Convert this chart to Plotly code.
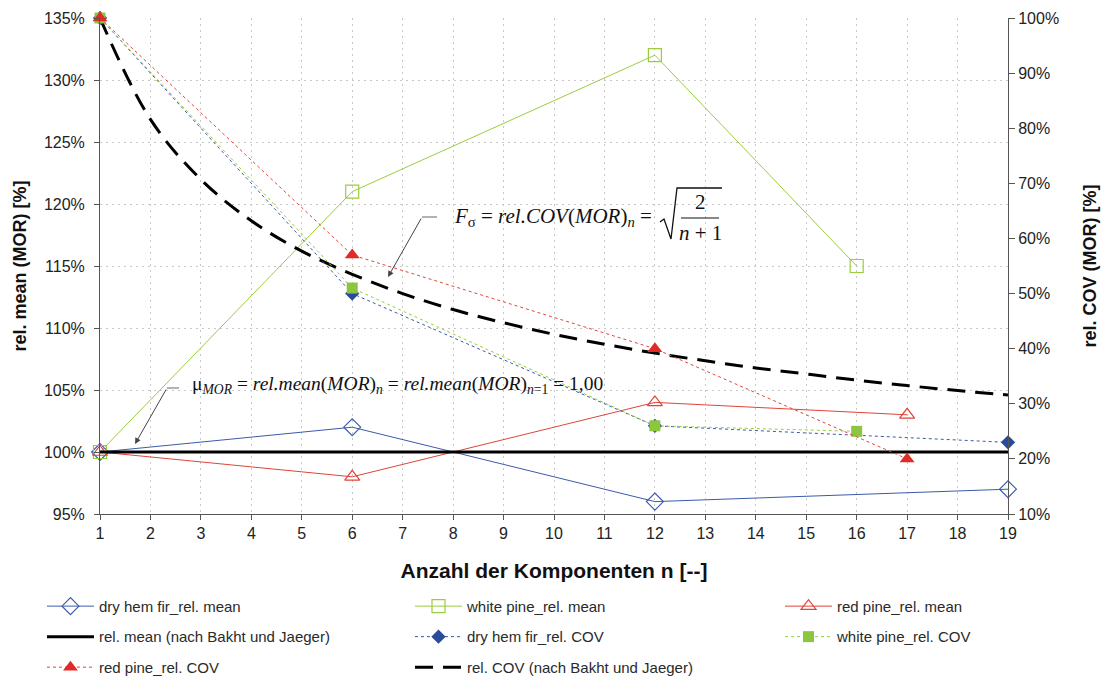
import plotly.graph_objects as go

# Number of components n for each species
n_hem = [1, 6, 12, 19]
n_white = [1, 6, 12, 16]
n_red = [1, 6, 12, 17]

# Relative mean MOR [%] (left axis)
hem_mean = [100, 102, 96, 97]
white_mean = [100, 121, 132, 115]
red_mean = [100, 98, 104, 103]

# Relative COV MOR [%] (right axis)
hem_cov = [100, 50, 26, 23]
white_cov = [100, 51, 26, 25]
red_cov = [100, 57, 40, 20]

# Reference curves after Bakht und Jaeger
n_ref = list(range(1, 20))
ref_mean = [100] * 19
ref_cov = [100, 81.6, 70.7, 63.2, 57.7, 53.5, 50.0, 47.1, 44.7, 42.6,
           40.8, 39.2, 37.8, 36.5, 35.4, 34.3, 33.3, 32.4, 31.6]

x_ticks = list(range(1, 20))
y_left_ticks = [95, 100, 105, 110, 115, 120, 125, 130, 135]
y_right_ticks = [10, 20, 30, 40, 50, 60, 70, 80, 90, 100]

BLUE = "#3b5ba9"
BLUE_F = "#2a4a9c"
GREEN = "#9acd3c"
GREEN_F = "#8cc63f"
RED = "#e0443a"
RED_F = "#e02b27"

fig = go.Figure()


def add(x, y, name, legend, rank, yaxis="y", line=None, marker=None, mode="lines+markers"):
    fig.add_trace(go.Scatter(
        x=x, y=y, name=name, mode=mode, yaxis=yaxis, line=line, marker=marker,
        legend=legend, legendgroup=name, legendrank=rank, cliponaxis=False,
    ))


# Lines drawn first (bottom) to last (top)
add(n_hem, hem_mean, "dry hem fir_rel. mean", "legend", 1,
    line=dict(color=BLUE, width=1),
    marker=dict(symbol="diamond-open", size=13, color=BLUE, line=dict(width=1.2)))
add(n_white, white_mean, "white pine_rel. mean", "legend2", 1,
    line=dict(color=GREEN, width=1),
    marker=dict(symbol="square-open", size=13, color=GREEN, line=dict(width=1.2)))
add(n_red, red_mean, "red pine_rel. mean", "legend3", 1,
    line=dict(color=RED, width=1),
    marker=dict(symbol="triangle-up-open", size=13, color=RED, line=dict(width=1.2)))
add(n_ref, ref_mean, "rel. mean (nach Bakht und Jaeger)", "legend", 2,
    line=dict(color="black", width=3), mode="lines")
add(n_ref, ref_cov, "rel. COV (nach Bakht und Jaeger)", "legend2", 3, yaxis="y2",
    line=dict(color="black", width=3, dash="18px,10px", shape="spline"), mode="lines")
add(n_hem, hem_cov, "dry hem fir_rel. COV", "legend2", 2, yaxis="y2",
    line=dict(color=BLUE, width=1, dash="dot"),
    marker=dict(symbol="diamond", size=11, color=BLUE_F))
add(n_white, white_cov, "white pine_rel. COV", "legend3", 2, yaxis="y2",
    line=dict(color=GREEN, width=1, dash="dot"),
    marker=dict(symbol="square", size=11, color=GREEN_F))
add(n_red, red_cov, "red pine_rel. COV", "legend", 3, yaxis="y2",
    line=dict(color=RED, width=1, dash="dot"),
    marker=dict(symbol="triangle-up", size=13, color=RED_F))

tick_font = dict(family="Liberation Sans, Arial, sans-serif", size=16, color="#222")
title_font = dict(family="Liberation Sans, Arial, sans-serif", size=18, color="#111")
grid = dict(showgrid=True, gridcolor="#c8c8c8", griddash="2px,4px", gridwidth=1)

fig.update_layout(
    width=1111, height=677,
    margin=dict(l=100, r=103, t=18, b=163, autoexpand=False),
    plot_bgcolor="white", paper_bgcolor="white",
    showlegend=True,
    xaxis=dict(
        range=[1, 19], tickvals=x_ticks, ticktext=[str(v) for v in x_ticks],
        tickfont=tick_font, ticks="outside", ticklen=5, tickcolor="#555",
        showline=True, linecolor="#555", linewidth=1, zeroline=False,
        title=dict(text="<b>Anzahl der Komponenten n [--]</b>",
                   font=dict(family=title_font["family"], size=21, color="#111"), standoff=22),
        **grid,
    ),
    yaxis=dict(
        range=[95, 135], tickvals=y_left_ticks,
        ticktext=[f"{v}%" for v in y_left_ticks],
        tickfont=tick_font, ticks="outside", ticklen=5, tickcolor="#555",
        ticklabelstandoff=6,
        showline=True, linecolor="#555", linewidth=1, zeroline=False,
        title=dict(text="<b>rel. mean (MOR) [%]</b>", font=title_font, standoff=12),
        **grid,
    ),
    yaxis2=dict(
        range=[10, 100], tickvals=y_right_ticks,
        ticktext=[f"{v}%" for v in y_right_ticks],
        overlaying="y", side="right", anchor="x",
        tickfont=tick_font, ticks="outside", ticklen=6, tickcolor="#555",
        showline=True, linecolor="#555", linewidth=1, showgrid=False, zeroline=False,
        title=dict(text="<b>rel. COV (MOR) [%]</b>", font=title_font, standoff=25),
    ),
)

leg_font = dict(family="Liberation Sans, Arial, sans-serif", size=15, color="#2a2a2a")
leg_common = dict(orientation="v", yanchor="top", xanchor="left", y=-0.153,
                  bgcolor="rgba(0,0,0,0)", font=leg_font, tracegroupgap=8, itemwidth=47)
fig.update_layout(
    legend=dict(x=-0.0639, **leg_common),
    legend2=dict(x=0.3414, **leg_common),
    legend3=dict(x=0.7489, **leg_common),
)

serif = "Liberation Serif, Times New Roman, serif"


def px(xp):
    return (xp - 100) / 908


def py(yp):
    return (514 - yp) / 496


# Formula for the reference COV
fig.add_annotation(
    xref="paper", yref="paper", x=px(452), y=py(217), xanchor="left", yanchor="middle",
    showarrow=False, font=dict(family=serif, size=21, color="#111"),
    text="<i>F</i><sub>σ</sub> = <i>rel.COV</i>(<i>MOR</i>)<sub><i>n</i></sub> =",
)
fig.add_annotation(
    xref="paper", yref="paper", x=px(700), y=py(202), xanchor="center", yanchor="middle",
    showarrow=False, font=dict(family=serif, size=21, color="#111"), text="2",
)
fig.add_annotation(
    xref="paper", yref="paper", x=px(700), y=py(233), xanchor="center", yanchor="middle",
    showarrow=False, font=dict(family=serif, size=21, color="#111"), text="<i>n</i> + 1",
)
fig.add_shape(type="line", xref="paper", yref="paper",
              x0=px(681), x1=px(719), y0=py(218), y1=py(218),
              line=dict(color="#111", width=1.2))
fig.add_shape(type="path", xref="paper", yref="paper",
              path=(f"M {px(660)},{py(222)} L {px(664)},{py(219)} L {px(671)},{py(239)} "
                    f"L {px(677)},{py(188)} L {px(722)},{py(188)}"),
              line=dict(color="#111", width=1.3))
fig.add_shape(type="line", xref="paper", yref="paper",
              x0=px(422), x1=px(437), y0=py(217), y1=py(217),
              line=dict(color="#666", width=1))
fig.add_annotation(
    xref="paper", yref="paper", x=px(388), y=py(277),
    axref="pixel", ayref="pixel", ax=422 - 388, ay=217 - 277,
    text="", showarrow=True, arrowhead=2, arrowsize=1.2, arrowwidth=1, arrowcolor="#444",
)

# Formula for the reference mean
fig.add_annotation(
    xref="paper", yref="paper", x=px(190), y=py(385), xanchor="left", yanchor="middle",
    showarrow=False, font=dict(family=serif, size=19.5, color="#111"),
    text=("μ<sub><i>MOR</i></sub> = <i>rel.mean</i>(<i>MOR</i>)<sub><i>n</i></sub> = "
          "<i>rel.mean</i>(<i>MOR</i>)<sub><i>n</i>=1</sub> = 1,00"),
)
fig.add_shape(type="line", xref="paper", yref="paper",
              x0=px(167), x1=px(179), y0=py(388), y1=py(388),
              line=dict(color="#666", width=1))
fig.add_annotation(
    xref="paper", yref="paper", x=px(135), y=py(444),
    axref="pixel", ayref="pixel", ax=167 - 135, ay=388 - 444,
    text="", showarrow=True, arrowhead=2, arrowsize=1.2, arrowwidth=1, arrowcolor="#444",
)

fig.write_html("out.html")
